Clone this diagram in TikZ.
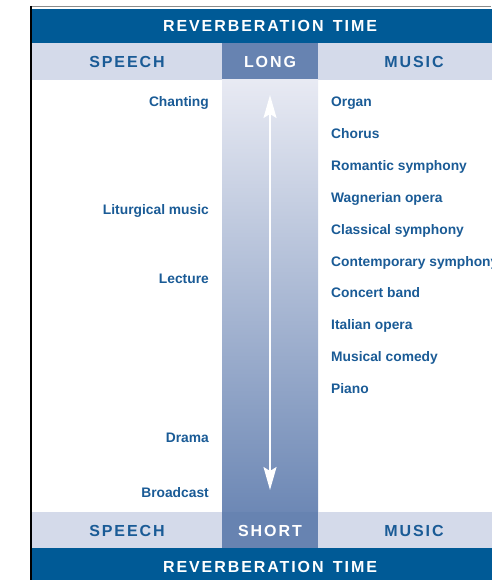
\documentclass[tikz,border=0pt]{standalone}
\usepackage{fontspec}
\setmainfont{Liberation Sans}
\newfontfamily\headfont[LetterSpace=12]{Liberation Sans}
\usepackage{tikz}
\usetikzlibrary{arrows.meta}
\definecolor{Navy}{HTML}{005A96}
\definecolor{Pale}{HTML}{D4DAEA}
\definecolor{Slate}{HTML}{6783B1}
\definecolor{ColTop}{HTML}{E8EAF3}
\definecolor{ColBot}{HTML}{6D88B5}
\definecolor{Ink}{HTML}{1A5B96}

\begin{document}
\begin{tikzpicture}[x=1pt,y=-1pt,
  item/.style={font=\fontsize{13.8}{15}\selectfont\bfseries,text=Ink,inner sep=0pt},
  head/.style={font=\headfont\fontsize{16}{18}\selectfont\bfseries,inner sep=0pt,anchor=base}]
  \useasboundingbox (0,0) rectangle (491,580);
  % bands
  \fill[Navy] (32,9) rectangle (508,43);
  \fill[Pale] (32,43) rectangle (508,80);
  \fill[Slate] (222,43) rectangle (318,80);
  \shade[top color=ColTop,bottom color=ColBot] (222,80) rectangle (318,512);
  \fill[Pale] (32,512) rectangle (508,548);
  \fill[Slate] (222,512) rectangle (318,548);
  \fill[Navy] (32,548) rectangle (508,584);
  \draw[black!45,line width=1.2pt] (30,6.5)--(491,6.5);
  \draw[line width=2.4pt] (31,6)--(31,580);
  % headings
  \node[head,text=white] (toptitle) at (270,32) {REVERBERATION\hspace{3pt} TIME};
  \node[head,text=Ink] (topspeech) at (127,68) {SPEECH};
  \node[head,text=white] (long) at (270,68) {LONG};
  \node[head,text=Ink] (topmusic) at (414,68) {MUSIC};
  \node[head,text=Ink] (botspeech) at (127,536) {SPEECH};
  \node[head,text=white] (short) at (270,536) {SHORT};
  \node[head,text=Ink] (botmusic) at (414,536) {MUSIC};
  \node[head,text=white] (bottitle) at (270,572) {REVERBERATION\hspace{3pt} TIME};
  % scale arrow
  \coordinate (longend) at (270,95);
  \coordinate (shortend) at (270,490);
  \draw[white,line width=1.8pt,{Stealth[length=23pt,width=13pt,inset=4pt]}-{Stealth[length=23pt,width=13pt,inset=4pt]}] (longend)--(shortend);
  % speech
  \foreach \name/\y/\txt in {chanting/107/Chanting,liturgical/214/Liturgical music,
    lecture/283/Lecture,drama/442/Drama,broadcast/497/Broadcast}
    \node[item,anchor=base east] (\name) at (209,\y) {\txt};
  % music
  \foreach \name/\txt [count=\i] in {organ/Organ,chorus/Chorus,romantic/Romantic symphony,
    wagner/Wagnerian opera,classical/Classical symphony,contemporary/Contemporary symphony,
    band/Concert band,italian/Italian opera,comedy/Musical comedy,piano/Piano}
    \node[item,anchor=base west] (\name) at (331,{107+31.8*(\i-1)}) {\txt};
\end{tikzpicture}
\end{document}
